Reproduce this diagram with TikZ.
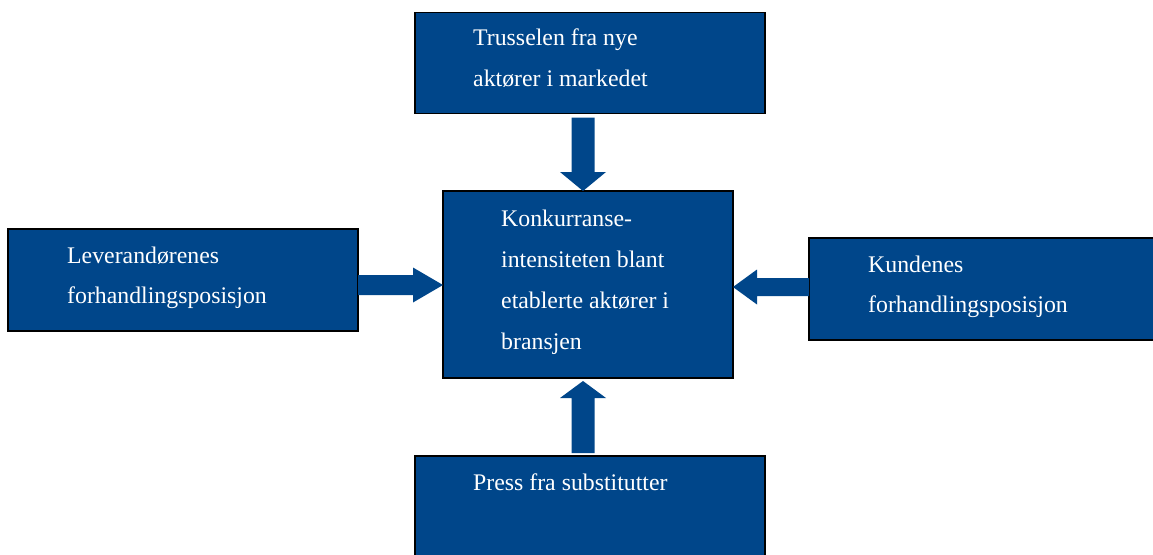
\documentclass[tikz,border=0pt]{standalone}
\usepackage{fontspec}
\setmainfont{Liberation Serif}
\usetikzlibrary{calc}
\definecolor{forceblue}{RGB}{0,70,138}
\tikzset{
  forcebox/.style={draw=black, line width=1.4pt, fill=forceblue, rectangle,
    inner sep=0pt, outer sep=0pt, anchor=north west},
  forcetext/.style={text=white, font=\fontsize{23.8}{41}\selectfont,
    inner sep=0pt, anchor=base west},
  arrowfill/.style={fill=forceblue}
}
% block arrow: #1 start, #2 tip, #3 half shaft width, #4 half head width, #5 head length
\newcommand\blockarrow[5]{%
  \coordinate (ba-h) at ($(#2)!#5!(#1)$);
  \fill[arrowfill] ($(#1)!#3!90:(#2)$) -- ($(ba-h)!#3!-90:(#1)$)
    -- ($(ba-h)!#4!-90:(#1)$) -- (#2) -- ($(ba-h)!#4!90:(#1)$)
    -- ($(ba-h)!#3!90:(#1)$) -- ($(#1)!#3!-90:(#2)$) -- cycle;
}
\begin{document}
\begin{tikzpicture}[x=1pt,y=-1pt]
\useasboundingbox (0,0) rectangle (1153,554);
\clip (0,0) rectangle (1153,554);

% the five forces
\node[forcebox, minimum width=350pt, minimum height=101pt] (top) at (415,12.5) {};
\node[forcebox, minimum width=290pt, minimum height=187pt] (ctr) at (443,191) {};
\node[forcebox, minimum width=350pt, minimum height=102pt] (lft) at (8,229) {};
\node[forcebox, minimum width=360pt, minimum height=102pt] (rgt) at (809,238) {};
\node[forcebox, minimum width=350pt, minimum height=110pt] (bot) at (415,456) {};

% labels
\node[forcetext] (top-a) at ($(top.north west)+(58,32.5)$) {Trusselen fra nye};
\node[forcetext] (top-b) at ($(top.north west)+(58,73.5)$) {aktører i markedet};

\node[forcetext] (ctr-a) at ($(ctr.north west)+(58,35)$) {Konkurranse-};
\node[forcetext] (ctr-b) at ($(ctr.north west)+(58,76)$) {intensiteten blant};
\node[forcetext] (ctr-c) at ($(ctr.north west)+(58,117)$) {etablerte aktører i};
\node[forcetext] (ctr-d) at ($(ctr.north west)+(58,158)$) {bransjen};

\node[forcetext] (lft-a) at ($(lft.north west)+(59,34)$) {Leverandørenes};
\node[forcetext] (lft-b) at ($(lft.north west)+(59,74)$) {forhandlingsposisjon};

\node[forcetext] (rgt-a) at ($(rgt.north west)+(59,34)$) {Kundenes};
\node[forcetext] (rgt-b) at ($(rgt.north west)+(59,74)$) {forhandlingsposisjon};

\node[forcetext] (bot-a) at ($(bot.north west)+(58,34)$) {Press fra substitutter};

% arrows towards the rivalry box
\coordinate (tS) at ($(top.south)+(-7,4)$);
\coordinate (tE) at (tS |- ctr.north);
\blockarrow{tS}{tE}{11.5pt}{23pt}{19pt}

\coordinate (lS) at ($(lft.east)+(0,5)$);
\coordinate (lE) at (lS -| ctr.west);
\blockarrow{lS}{lE}{10pt}{17.5pt}{30pt}

\coordinate (rS) at ($(rgt.west)+(0,-2)$);
\coordinate (rE) at (rS -| ctr.east);
\blockarrow{rS}{rE}{9pt}{17.5pt}{24pt}

\coordinate (bS) at ($(bot.north)+(-7,-3)$);
\coordinate (bE) at ($(bS |- ctr.south)+(0,3)$);
\blockarrow{bS}{bE}{11.5pt}{23pt}{17pt}
\end{tikzpicture}
\end{document}
